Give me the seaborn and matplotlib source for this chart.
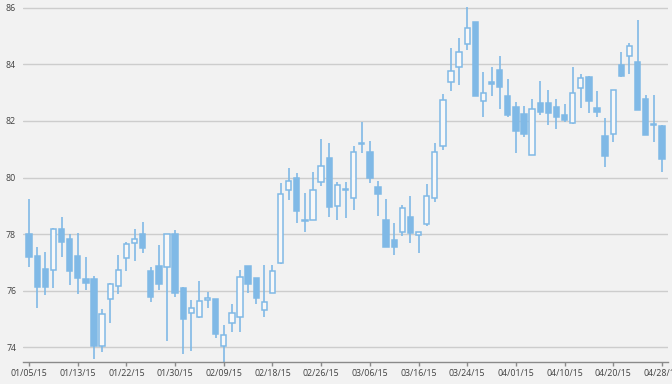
import matplotlib
matplotlib.use("Agg")
import matplotlib.pyplot as plt
import numpy as np
import pandas as pd
import seaborn as sns

# ---- data ----
tick_labels = ["01/05/15", "01/13/15", "01/22/15", "01/30/15", "02/09/15", "02/18/15",
               "02/26/15", "03/06/15", "03/16/15", "03/24/15", "04/01/15", "04/10/15",
               "04/20/15", "04/28/15"]

opens = [78.00, 77.22, 76.75, 76.73, 78.19, 77.83, 77.22, 76.41, 76.40, 74.04,
         75.71, 76.16, 77.16, 77.67, 77.99, 76.70, 76.88, 76.84, 77.99, 76.10,
         75.19, 75.07, 75.66, 75.69, 74.05, 74.84, 75.07, 76.87, 76.45, 75.31,
         75.92, 76.96, 79.56, 79.97, 78.45, 78.50, 79.85, 80.68, 78.99, 79.57,
         79.29, 81.19, 80.89, 79.68, 78.50, 77.79, 78.08, 78.59, 77.97, 78.35,
         79.26, 81.10, 83.38, 83.90, 84.71, 85.49, 82.71, 83.38, 83.81, 82.88,
         82.48, 82.25, 80.80, 82.63, 82.63, 82.48, 82.20, 81.92, 83.16, 83.55,
         82.46, 81.47, 81.53, 83.98, 84.31, 84.10, 82.77, 81.87, 81.82]
highs = [79.25, 77.55, 77.36, 78.20, 78.59, 77.99, 78.05, 77.20, 76.51, 75.33,
         76.28, 77.26, 77.73, 78.17, 78.44, 76.84, 77.61, 78.00, 78.14, 76.12,
         75.66, 76.34, 75.96, 75.70, 74.78, 75.52, 76.73, 76.88, 76.46, 76.90,
         76.90, 79.82, 80.33, 80.17, 79.46, 80.21, 81.35, 81.23, 79.85, 79.85,
         81.12, 81.98, 81.30, 79.89, 79.23, 78.40, 79.03, 79.35, 78.08, 79.77,
         81.23, 82.97, 84.57, 84.93, 86.05, 85.50, 83.75, 83.92, 84.30, 83.48,
         82.68, 82.53, 82.78, 83.42, 83.10, 82.77, 82.60, 83.92, 83.66, 83.60,
         83.06, 82.10, 83.10, 84.45, 84.75, 85.58, 82.92, 82.92, 81.85]
lows = [76.85, 75.37, 75.83, 76.08, 77.20, 76.19, 75.88, 76.02, 73.56, 73.83,
        74.84, 75.88, 76.70, 77.06, 77.32, 75.60, 76.02, 74.20, 75.76, 73.75,
        73.85, 75.02, 75.38, 74.31, 73.42, 74.54, 74.54, 75.90, 75.52, 75.07,
        75.90, 76.95, 79.20, 78.38, 78.08, 78.48, 79.70, 78.61, 78.50, 78.56,
        78.85, 80.88, 79.82, 78.64, 77.53, 77.26, 77.93, 77.69, 77.34, 78.30,
        79.14, 80.97, 83.07, 83.27, 84.51, 82.88, 82.13, 82.88, 82.41, 82.15,
        80.88, 81.44, 80.78, 82.20, 81.86, 81.71, 81.95, 81.90, 82.45, 82.27,
        82.13, 80.37, 81.27, 83.55, 83.66, 82.39, 81.50, 81.27, 80.20]
closes = [77.17, 76.14, 76.14, 78.17, 77.73, 76.70, 76.43, 76.28, 74.05, 75.17,
          76.22, 76.73, 77.65, 77.81, 77.49, 75.76, 76.23, 77.99, 75.90, 74.98,
          75.39, 75.63, 75.72, 74.46, 74.42, 75.19, 76.49, 76.23, 75.72, 75.58,
          76.70, 79.41, 79.89, 78.82, 78.50, 79.56, 80.41, 78.94, 79.73, 79.61,
          80.89, 81.23, 80.00, 79.42, 77.55, 77.55, 78.91, 78.02, 78.06, 79.35,
          80.89, 82.74, 83.78, 84.43, 85.29, 82.90, 82.98, 83.30, 83.19, 82.21,
          81.66, 81.54, 82.42, 82.31, 82.27, 82.15, 82.04, 83.00, 83.51, 82.72,
          82.31, 80.77, 83.10, 83.59, 84.65, 82.39, 81.50, 81.91, 80.65]

df = pd.DataFrame({"open": opens, "high": highs, "low": lows, "close": closes})
df["idx"] = np.arange(len(df))
df["bottom"] = df[["open", "close"]].min(axis=1)
df["height"] = (df["close"] - df["open"]).abs()
df["up"] = df["close"] >= df["open"]

BLUE = "#80b9e6"
BG = "#f2f2f2"

sns.set_theme(style="whitegrid", rc={
    "axes.facecolor": BG,
    "figure.facecolor": BG,
    "grid.color": "#cdcdcd",
    "grid.linewidth": 1.0,
    "axes.edgecolor": "#9a9a9a",
})
plt.rcParams["font.family"] = ["Open Sans", "DejaVu Sans"]

fig = plt.figure(figsize=(6.72, 3.84), dpi=100)
ax = fig.add_axes([23 / 672, 1 - 362 / 384, (668 - 23) / 672, (362 - 6) / 384])

# wicks
ax.vlines(df["idx"], df["low"], df["high"], color=BLUE, linewidth=1.2, zorder=2)
# bodies
face = [BG if u else BLUE for u in df["up"]]
face = ["#f8f8f8" if u else BLUE for u in df["up"]]
ax.bar(df["idx"], df["height"], bottom=df["bottom"], width=0.66,
       color=face, edgecolor=BLUE, linewidth=1.1, zorder=3)

ax.set_xlim(-0.75, len(df) - 0.25)
ax.set_ylim(73.47, 86.07)
ax.set_yticks(np.arange(74, 87, 2))
ax.set_yticklabels([str(v) for v in range(74, 87, 2)])
ax.set_xticks(np.arange(0, len(df), 6))
ax.set_xticklabels(tick_labels)

ax.grid(axis="x", visible=False)
ax.grid(axis="y", visible=True)
for s in ["left", "right", "top"]:
    ax.spines[s].set_visible(False)
ax.spines["bottom"].set_color("#8a8a8a")
ax.spines["bottom"].set_linewidth(1.0)

ax.tick_params(axis="x", length=3, width=1, color="#8a8a8a", pad=2,
               labelsize=6.3, labelcolor="#404040", bottom=True)
ax.tick_params(axis="y", length=0, pad=5, labelsize=6.3, labelcolor="#404040")

fig.savefig("out.png", dpi=100, facecolor=BG)
